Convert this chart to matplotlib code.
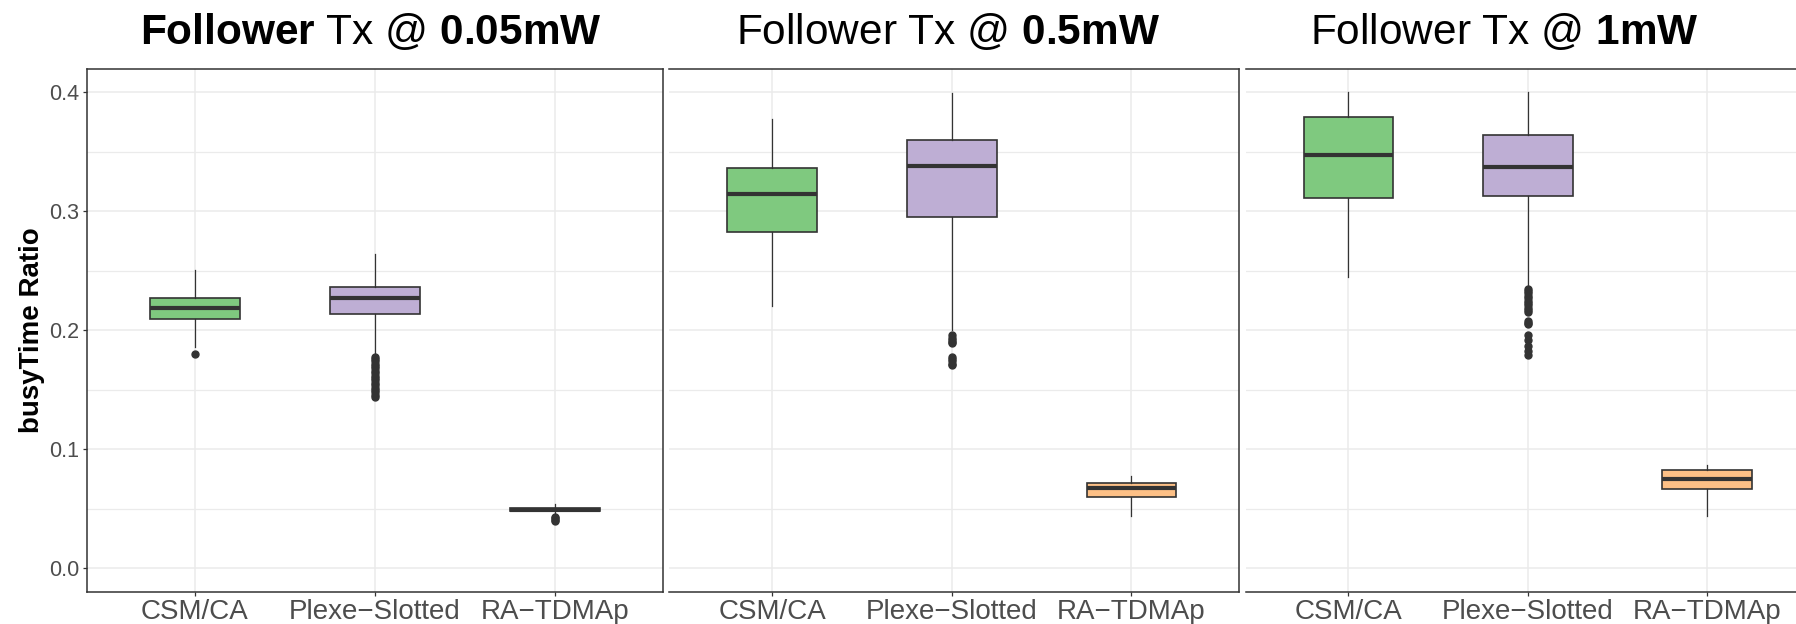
import matplotlib
matplotlib.use("Agg")
import matplotlib.pyplot as plt

plt.rcParams['font.family'] = ['Liberation Sans', 'DejaVu Sans']
plt.rcParams['mathtext.fontset'] = 'custom'
plt.rcParams['mathtext.rm'] = 'Liberation Sans'
plt.rcParams['mathtext.bf'] = 'Liberation Sans:bold'
plt.rcParams['mathtext.it'] = 'Liberation Sans:italic'

# ---------------- data ----------------
categories = ["CSM/CA", "Plexe\u2212Slotted", "RA\u2212TDMAp"]
powers = ["0.05mW", "0.5mW", "1mW"]
box_colors = ["#7FC97F", "#BEAED4", "#FDC086"]

# one row per power level, one entry per category
whisker_high = [[0.2506, 0.2642, 0.0543],
                [0.3774, 0.3991, 0.0776],
                [0.4000, 0.4000, 0.0869]]
q3 = [[0.2273, 0.2361, 0.0505],
      [0.3360, 0.3598, 0.0715],
      [0.3789, 0.3644, 0.0824]]
median = [[0.2189, 0.2273, 0.0492],
          [0.3149, 0.3378, 0.0679],
          [0.3472, 0.3369, 0.0755]]
q1 = [[0.2098, 0.2137, 0.0480],
      [0.2826, 0.2952, 0.0601],
      [0.3112, 0.3131, 0.0670]]
whisker_low = [[0.1857, 0.1810, 0.0462],
               [0.2201, 0.2005, 0.0438],
               [0.2451, 0.2375, 0.0444]]

outliers_005mw = [
    [0.180],
    [0.178, 0.176, 0.174, 0.172, 0.170, 0.168, 0.166, 0.164, 0.162, 0.160,
     0.158, 0.156, 0.154, 0.152, 0.150, 0.148, 0.146, 0.144],
    [0.043, 0.042, 0.041, 0.040],
]
outliers_05mw = [
    [],
    [0.196, 0.194, 0.192, 0.190, 0.189, 0.178, 0.176, 0.174, 0.172, 0.171],
    [],
]
outliers_1mw = [
    [],
    [0.2347, 0.2330, 0.2310, 0.2290, 0.2270, 0.2250, 0.2230, 0.2210, 0.2190,
     0.2170, 0.2151, 0.2075, 0.2060, 0.2052, 0.1962, 0.1917, 0.1872, 0.1826,
     0.1790],
    [],
]
outliers = [outliers_005mw, outliers_05mw, outliers_1mw]

y_major = [0.0, 0.1, 0.2, 0.3, 0.4]
y_minor = [0.05, 0.15, 0.25, 0.35]

# ---------------- layout ----------------
W, H = 1796, 624
fig = plt.figure(figsize=(W / 100, H / 100), dpi=100)

# (left px, right px, left x-limit) -- panels 2 & 3 are cropped on the left
panels = [(86.6, 662.6, 0.4), (669.0, 1239.3, 0.426), (1246.0, 1815.0, 0.4295)]
top_px, bot_px = 68.5, 592.3
title_x_px = [371, 948, 1504]
titles = [r"$\mathbf{Follower}$ Tx @ $\mathbf{0.05mW}$",
          r"Follower Tx @ $\mathbf{0.5mW}$",
          r"Follower Tx @ $\mathbf{1mW}$"]

grid_col = "#EBEBEB"
dark = "#333333"
txt_col = "#4D4D4D"

for p, (lpx, rpx, xl) in enumerate(panels):
    ax = fig.add_axes([lpx / W, 1 - bot_px / H, (rpx - lpx) / W, (bot_px - top_px) / H])
    stats = []
    for c in range(3):
        stats.append(dict(med=median[p][c], q1=q1[p][c], q3=q3[p][c],
                          whislo=whisker_low[p][c], whishi=whisker_high[p][c],
                          fliers=outliers[p][c]))
    bp = ax.bxp(stats, positions=[1, 2, 3], widths=0.5, patch_artist=True,
                showcaps=False,
                boxprops=dict(edgecolor=dark, linewidth=1.2),
                medianprops=dict(color=dark, linewidth=3.0, solid_capstyle='butt'),
                whiskerprops=dict(color=dark, linewidth=0.9),
                flierprops=dict(marker='o', markerfacecolor=dark, markeredgecolor=dark,
                                markersize=5, linestyle='none'))
    for patch, col in zip(bp['boxes'], box_colors):
        patch.set_facecolor(col)

    ax.set_xlim(xl, 3.6)
    ax.set_ylim(-0.02, 0.42)
    ax.set_xticks([1, 2, 3])
    ax.set_xticklabels(categories)
    ax.set_yticks(y_major)
    ax.set_yticks(y_minor, minor=True)
    ax.set_axisbelow(True)
    ax.grid(which='major', color=grid_col, linewidth=1.1)
    ax.grid(which='minor', axis='y', color=grid_col, linewidth=0.9)
    ax.tick_params(axis='x', length=3, width=0.9, color=dark, pad=2,
                   labelsize=20, labelcolor=txt_col)
    ax.tick_params(which='minor', length=0)
    if p == 0:
        ax.set_yticklabels(["0.0", "0.1", "0.2", "0.3", "0.4"])
        ax.tick_params(axis='y', length=3, width=0.9, color=dark, pad=2.5,
                       labelsize=15.5, labelcolor=txt_col)
    else:
        ax.tick_params(axis='y', length=0, labelleft=False)
        ax.spines['left'].set_visible(False)
    for s in ax.spines.values():
        s.set_color(dark)
        s.set_linewidth(1.1)

    fig.text(title_x_px[p] / W, 1 - 44 / H, titles[p], ha='center', va='baseline',
             fontsize=30.5, color='black')

fig.text(32 / W, 1 - 330 / H, "busyTime Ratio", rotation=90, ha='center', va='center',
         fontsize=20, fontweight='bold', color='black')

fig.savefig("out.png", dpi=100)
